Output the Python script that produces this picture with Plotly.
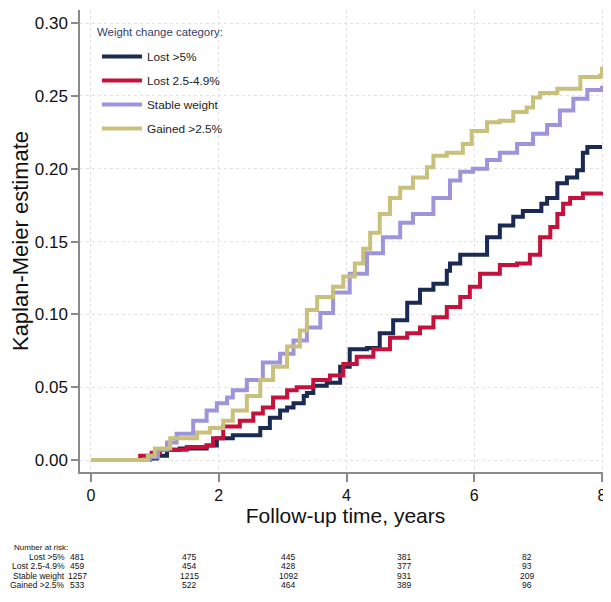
import plotly.graph_objects as go

# ---------------- data ----------------
series_names = ["Lost >5%", "Lost 2.5-4.9%", "Stable weight", "Gained >2.5%"]

lost5_t = [0, 0.92, 1.03, 1.19, 1.39, 1.81, 1.97, 2.22, 2.65, 2.80, 2.96, 3.07, 3.17, 3.33, 3.38, 3.48,
           3.69, 3.90, 4.05, 4.32, 4.52, 4.73, 4.95, 5.15, 5.36, 5.57, 5.62, 5.78, 6.20, 6.40, 6.61,
           6.76, 7.05, 7.14, 7.30, 7.45, 7.61, 7.70, 7.77, 8.0]
lost5_v = [0, 0.001, 0.003, 0.007, 0.008, 0.010, 0.015, 0.017, 0.022, 0.029, 0.034, 0.036, 0.039, 0.044,
           0.046, 0.051, 0.053, 0.064, 0.076, 0.077, 0.087, 0.096, 0.108, 0.117, 0.121, 0.130, 0.135,
           0.141, 0.153, 0.161, 0.167, 0.171, 0.176, 0.180, 0.190, 0.194, 0.199, 0.211, 0.215, 0.215]

lost25_t = [0, 0.77, 0.95, 1.08, 1.50, 1.81, 1.91, 2.07, 2.33, 2.54, 2.69, 2.85, 3.07, 3.22, 3.48, 3.74,
            3.95, 4.16, 4.42, 4.68, 4.95, 5.15, 5.36, 5.57, 5.78, 5.93, 6.09, 6.40, 6.67, 6.87, 7.03,
            7.19, 7.30, 7.39, 7.50, 7.70, 8.0]
lost25_v = [0, 0.003, 0.005, 0.007, 0.009, 0.010, 0.015, 0.023, 0.027, 0.032, 0.036, 0.043, 0.048, 0.050,
            0.055, 0.058, 0.066, 0.071, 0.076, 0.084, 0.087, 0.091, 0.098, 0.105, 0.112, 0.119, 0.128,
            0.134, 0.135, 0.141, 0.153, 0.160, 0.169, 0.176, 0.180, 0.183, 0.184]

stable_t = [0, 0.92, 1.05, 1.19, 1.34, 1.60, 1.81, 1.97, 2.13, 2.22, 2.44, 2.69, 2.96, 3.17, 3.38, 3.59,
            3.79, 4.05, 4.32, 4.57, 4.84, 5.04, 5.36, 5.62, 5.78, 5.98, 6.20, 6.40, 6.67, 6.92, 7.14,
            7.34, 7.55, 7.77, 8.0]
stable_v = [0, 0.002, 0.007, 0.012, 0.018, 0.027, 0.034, 0.039, 0.043, 0.048, 0.055, 0.067, 0.073, 0.082,
            0.091, 0.101, 0.115, 0.128, 0.142, 0.153, 0.163, 0.169, 0.180, 0.192, 0.198, 0.200, 0.206,
            0.211, 0.217, 0.224, 0.230, 0.240, 0.248, 0.254, 0.257]

gained_t = [0, 0.89, 1.0, 1.24, 1.66, 1.86, 2.07, 2.22, 2.44, 2.65, 2.85, 3.07, 3.27, 3.38, 3.54, 3.79,
            3.95, 4.13, 4.26, 4.37, 4.52, 4.68, 4.84, 5.04, 5.26, 5.36, 5.57, 5.82, 5.96, 6.20, 6.40,
            6.61, 6.82, 6.92, 7.03, 7.30, 7.66, 7.97, 8.0]
gained_v = [0, 0.003, 0.008, 0.015, 0.019, 0.022, 0.027, 0.034, 0.044, 0.055, 0.064, 0.078, 0.089, 0.103,
            0.112, 0.119, 0.126, 0.135, 0.145, 0.156, 0.169, 0.180, 0.187, 0.194, 0.201, 0.209, 0.211,
            0.217, 0.226, 0.232, 0.233, 0.239, 0.242, 0.249, 0.252, 0.255, 0.263, 0.264, 0.270]

x_ticks = [0, 2, 4, 6, 8]
y_ticks = [0.00, 0.05, 0.10, 0.15, 0.20, 0.25, 0.30]
y_tick_labels = ["0.00", "0.05", "0.10", "0.15", "0.20", "0.25", "0.30"]

legend_title = "Weight change category:"
risk_title = "Number at risk:"
risk_labels = ["Lost >5%", "Lost 2.5-4.9%", "Stable weight", "Gained >2.5%"]
risk_lost5 = [481, 475, 445, 381, 82]
risk_lost25 = [459, 454, 428, 377, 93]
risk_stable = [1257, 1215, 1092, 931, 209]
risk_gained = [533, 522, 464, 389, 96]

# ---------------- style ----------------
colors = ["#1b2a52", "#c4123c", "#9d95db", "#c9c07c"]
FONT = "Liberation Sans, Arial, sans-serif"
NARROW = "Liberation Sans Narrow, Arial Narrow, Liberation Sans, sans-serif"

OFF = 8  # page body margin in the browser
W, H = 611 - OFF, 602 - OFF
ML, MR, MT, MB = 80 - OFF, 0, 10 - OFF, 130

fig = go.Figure()
all_t = [lost5_t, lost25_t, stable_t, gained_t]
all_v = [lost5_v, lost25_v, stable_v, gained_v]
for i, name in enumerate(series_names):
    fig.add_trace(go.Scatter(
        x=all_t[i], y=all_v[i], mode="lines", name=name,
        line=dict(color=colors[i], width=4, shape="hv"),
        legendgroup=name,
    ))

plot_w = W - ML - MR
plot_h = H - MT - MB
def px_x(px):
    # px in screenshot coordinates
    return (px - OFF - ML) / plot_w
def px_y(py):
    return (H - MB - (py - OFF)) / plot_h

fig.update_layout(
    width=W, height=H,
    margin=dict(l=ML, r=MR, t=MT, b=MB),
    paper_bgcolor="white", plot_bgcolor="white",
    font=dict(family=FONT, color="#111111"),
    showlegend=True,
    legend=dict(
        x=px_x(97), y=px_y(42), xanchor="left", yanchor="top",
        bgcolor="rgba(0,0,0,0)",
        font=dict(size=11.8, color="#222222", family=FONT),
        tracegroupgap=5, itemwidth=40,
    ),
)

fig.add_annotation(text=legend_title, x=px_x(95), y=px_y(32), xref="paper", yref="paper",
                   xanchor="left", yanchor="middle", showarrow=False,
                   font=dict(size=11.4, color="#34406a", family=FONT))

fig.update_xaxes(
    range=[-0.172, 8.14], tickvals=x_ticks, ticktext=[str(t) for t in x_ticks],
    showgrid=True, gridcolor="#e2e2e2", griddash="dot", gridwidth=1,
    zeroline=False, showline=True, linecolor="#8a8a8a", linewidth=1.5,
    ticks="outside", ticklen=8, tickcolor="#8a8a8a", tickwidth=1.5,
    tickfont=dict(size=16, color="#111111"),
    title=dict(text="Follow-up time, years", font=dict(size=21, color="#111111"), standoff=3),
    automargin=False,
)
fig.update_yaxes(
    range=[-0.0082, 0.309], tickvals=y_ticks, ticktext=y_tick_labels,
    showgrid=True, gridcolor="#e2e2e2", griddash="dot", gridwidth=1,
    zeroline=False, showline=True, linecolor="#8a8a8a", linewidth=1.5,
    ticks="outside", ticklen=7, tickcolor="#8a8a8a", tickwidth=1.5,
    tickfont=dict(size=17, color="#111111"),
    title=dict(text="Kaplan-Meier estimate", font=dict(size=22, color="#111111"), standoff=0),
    automargin=False,
)

# ---------------- number at risk table ----------------
col_px = [77, 189, 288, 404, 527]
row_py = [557, 566, 576, 585]
fig.add_annotation(text=risk_title, x=px_x(12), y=px_y(547), xref="paper", yref="paper",
                   xanchor="left", yanchor="middle", showarrow=False,
                   font=dict(size=8, family=NARROW, color="#111111"))
risk_rows = [risk_lost5, risk_lost25, risk_stable, risk_gained]
for r, lab in enumerate(risk_labels):
    fig.add_annotation(text=lab, x=px_x(67), y=px_y(row_py[r]), xref="paper", yref="paper",
                       xanchor="right", yanchor="middle", showarrow=False,
                       font=dict(size=8.5, family=NARROW, color="#111111"))
    for c, val in enumerate(risk_rows[r]):
        fig.add_annotation(text=str(val), x=px_x(col_px[c]), y=px_y(row_py[r]), xref="paper", yref="paper",
                           xanchor="center", yanchor="middle", showarrow=False,
                           font=dict(size=8.5, family=NARROW, color="#111111"))

fig.write_html("out.html")
